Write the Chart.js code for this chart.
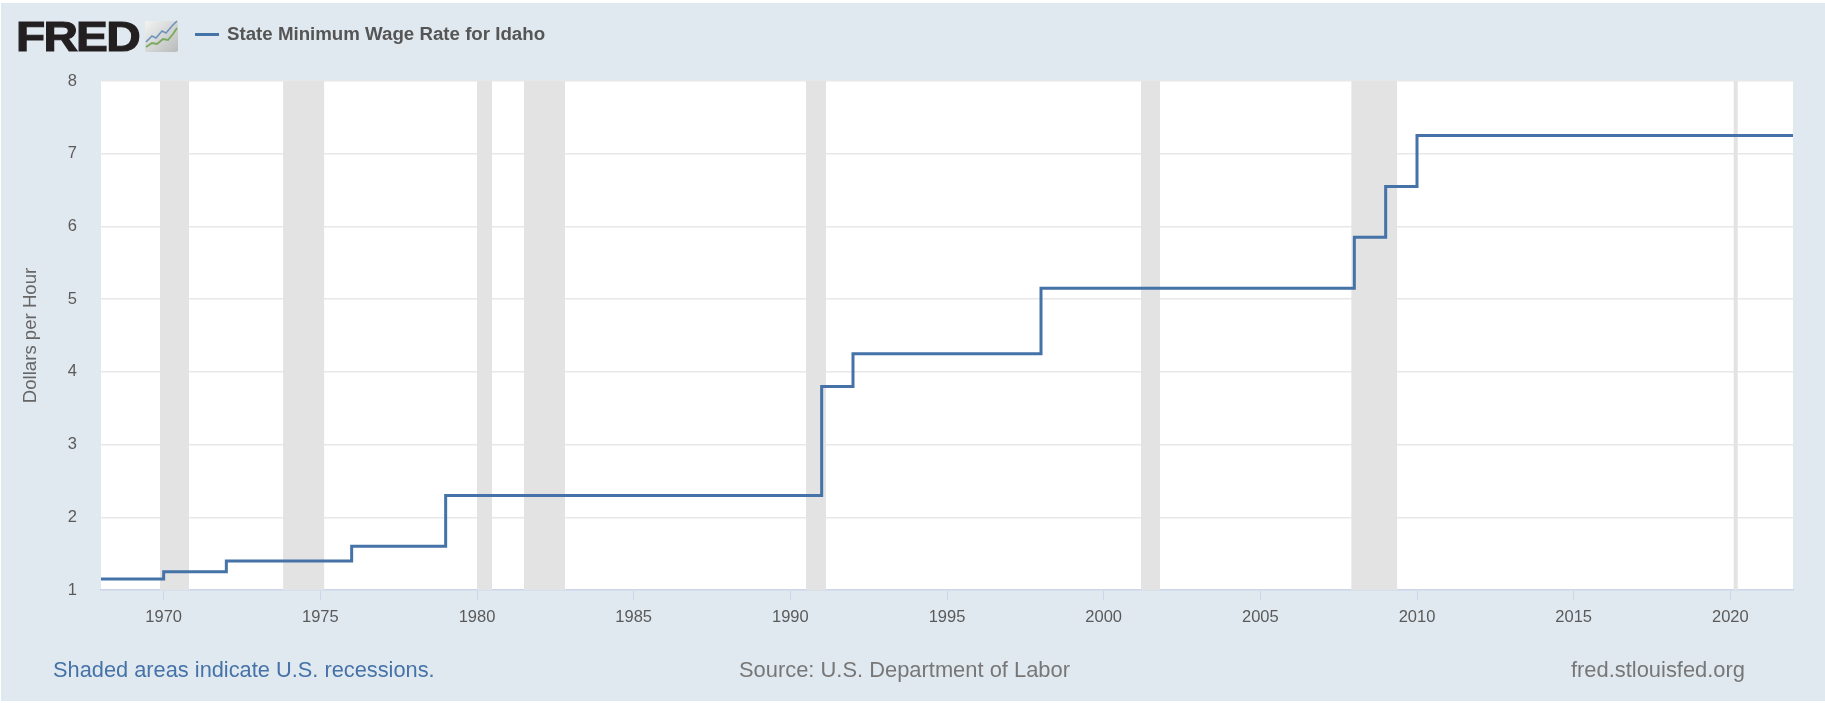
<!DOCTYPE html>
<html>
<head>
<meta charset="utf-8">
<script src="https://cdn.jsdelivr.net/npm/chart.js@4/dist/chart.umd.min.js"></script>
<style>
html,body{margin:0;padding:0;background:#fff;width:1825px;height:703px;overflow:hidden}
#panel{position:absolute;left:1px;top:3px;width:1824px;height:698px;background:#e1e9f0}
#wrap{position:absolute;left:0;top:0;width:1825px;height:703px}
.t{position:absolute;font-family:"Liberation Sans",Arial,sans-serif;white-space:nowrap;line-height:1}
#logo{left:16px;top:15px;font-size:43px;font-weight:bold;color:#231f20;letter-spacing:-1.6px;-webkit-text-stroke:1.2px #231f20;transform:scaleX(1.11);transform-origin:left top}
#icon{position:absolute;left:145px;top:20px}
#key{position:absolute;left:195px;top:33px;width:24px;height:3px;background:#4572a7}
#title{left:227px;top:25px;font-size:18.7px;font-weight:bold;color:#555}
#shaded{left:53px;top:659px;font-size:21.8px;color:#4572a7}
#source{left:739px;top:659px;font-size:21.9px;color:#777}
#site{left:1571px;top:659px;font-size:21.9px;color:#777}
</style>
</head>
<body>
<div id="panel"></div>
<div id="wrap"><canvas id="c" width="1825" height="703"></canvas></div>
<div class="t" id="logo">FRED</div>
<svg id="icon" width="34" height="32" viewBox="0 0 34 32">
  <defs><linearGradient id="g" x1="0" y1="0" x2="1" y2="1"><stop offset="0" stop-color="#f2f3f3"/><stop offset="1" stop-color="#b9bbbb"/></linearGradient></defs>
  <rect x="0" y="1" width="33" height="31" rx="2" fill="url(#g)"/>
  <polyline points="1,22 7,16 11,18 17,11 21,13 27,6 32,1" fill="none" stroke="#6d94bd" stroke-width="1.6"/>
  <polyline points="1,27 7,23 12,24 18,19 23,20 28,14 32,8" fill="none" stroke="#7aa95c" stroke-width="1.8"/>
</svg>
<div id="key"></div>
<div class="t" id="title">State Minimum Wage Rate for Idaho</div>
<div class="t" id="shaded">Shaded areas indicate U.S. recessions.</div>
<div class="t" id="source">Source: U.S. Department of Labor</div>
<div class="t" id="site">fred.stlouisfed.org</div>
<script>
const seriesName = "State Minimum Wage Rate for Idaho";
const years = [1968, 1970, 1972, 1976, 1979, 1991, 1992, 1998, 2008, 2009, 2010, 2022];
const wages = [1.15, 1.25, 1.40, 1.60, 2.30, 3.80, 4.25, 5.15, 5.85, 6.55, 7.25, 7.25];
const recessionStart = [1969.88, 1973.81, 1980.0, 1981.5, 1990.5, 2001.19, 2007.9, 2020.1];
const recessionEnd = [1970.81, 1975.13, 1980.48, 1982.81, 1991.14, 2001.8, 2009.37, 2020.24];
const xTicks = [1970, 1975, 1980, 1985, 1990, 1995, 2000, 2005, 2010, 2015, 2020];
const yTicks = [1, 2, 3, 4, 5, 6, 7, 8];
const yAxisTitle = "Dollars per Hour";

const wagePoints = years.map((x, i) => ({x, y: wages[i]}));
const yTop = yTicks[yTicks.length - 1];
const recessionPoints = recessionStart.flatMap((s, i) => [
  {x: s, y: yTop}, {x: recessionEnd[i], y: yTop}, {x: recessionEnd[i], y: null}
]);
const tickFont = {family: '"Liberation Sans",Arial,sans-serif', size: 16.5};

const plotBackground = {
  id: 'plotBackground',
  beforeDraw(chart) {
    const a = chart.chartArea, ctx = chart.ctx;
    ctx.save();
    ctx.fillStyle = '#ffffff';
    ctx.fillRect(a.left, a.top, a.right - a.left, a.bottom - a.top);
    ctx.restore();
  }
};

new Chart(document.getElementById('c'), {
  type: 'line',
  data: {
    datasets: [
      {label: seriesName, data: wagePoints, stepped: true, borderColor: '#4572a7', borderWidth: 3,
       pointRadius: 0, fill: false, order: 0, borderJoinStyle: 'miter', borderCapStyle: 'butt'},
      {label: 'Recessions', data: recessionPoints, borderWidth: 0, borderColor: 'rgba(0,0,0,0)',
       backgroundColor: '#e3e3e3', pointRadius: 0, fill: 'start', order: 1, spanGaps: false}
    ]
  },
  options: {
    responsive: false,
    animation: false,
    layout: {padding: {left: 0, top: 81, right: 32, bottom: 73}},
    plugins: {legend: {display: false}, title: {display: false}, tooltip: {enabled: false}},
    scales: {
      x: {
        type: 'linear', min: 1968, max: 2022,
        afterFit(s) { s.height = 40; },
        afterBuildTicks(s) { s.ticks = xTicks.map(v => ({value: v})); },
        grid: {drawOnChartArea: false, drawTicks: true, tickLength: 10, color: '#ccd6eb', lineWidth: 1},
        border: {color: '#ccd6eb', width: 1.5},
        ticks: {callback: v => String(v), color: '#5a5a5a', font: tickFont, maxRotation: 0, autoSkip: false, padding: 8}
      },
      y: {
        min: 1, max: 8,
        afterFit(s) { s.width = 101; },
        afterBuildTicks(s) { s.ticks = yTicks.map(v => ({value: v})); },
        grid: {color: '#e8e8e8', lineWidth: 1.5, drawTicks: false},
        border: {display: false},
        title: {display: true, text: yAxisTitle, color: '#666', font: {family: tickFont.family, size: 18.6}, padding: {top: 20, bottom: 0}},
        ticks: {callback: v => String(v), color: '#5a5a5a', font: tickFont, padding: 24}
      }
    }
  },
  plugins: [plotBackground]
});
</script>
</body>
</html>
